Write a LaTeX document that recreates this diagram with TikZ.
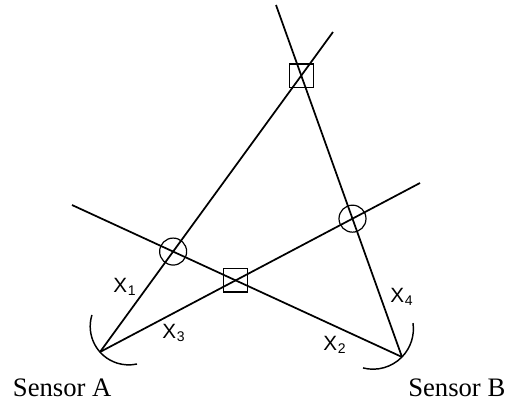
\documentclass[tikz,border=0pt]{standalone}
\usepackage{fontspec}
\setmainfont{Liberation Serif}
\setsansfont{Liberation Sans}
\usetikzlibrary{positioning,calc}
\newcommand{\xlab}[2]{#1\kern0.6pt\raisebox{-2.4pt}{\fontsize{10.5}{11}\selectfont #2}}
\tikzset{
  ray/.style={line width=1.3pt},
  ring/.style={draw,circle,line width=0.9pt,minimum size=20.25pt,inner sep=0pt},
  boxmark/.style={draw,rectangle,line width=0.9pt,minimum width=18pt,minimum height=17.5pt,inner sep=0pt},
  tag/.style={anchor=base west,inner sep=0pt,font=\sffamily\fontsize{15.5}{16}\selectfont},
  caption/.style={anchor=base west,inner sep=0pt,font=\fontsize{20}{24}\selectfont},
  aperture/.style={line width=1.1pt},
}
\begin{document}
\begin{tikzpicture}[x=0.75pt,y=0.75pt]
  \useasboundingbox (0,0) rectangle (508,405);
  \coordinate (A) at (100,53);
  \coordinate (B) at (402,48);
  % far ends of the four bearings
  \coordinate (a1) at (333,373);
  \coordinate (a3) at (420,222);
  \coordinate (b2) at (72,200);
  \coordinate (b4) at (276,400);
  \draw[ray] (A) -- (a1);
  \draw[ray] (A) -- (a3);
  \draw[ray] (B) -- (b2);
  \draw[ray] (B) -- (b4);
  \node[boxmark] (s1) at (intersection of A--a1 and B--b4) {};
  \node[boxmark] (s2) at (intersection of A--a3 and B--b2) {};
  \node[ring] (c1) at (intersection of A--a1 and B--b2) {};
  \node[ring] (c2) at (intersection of A--a3 and B--b4) {};
  % sensor apertures
  \coordinate (ca) at (128.7,78.6);
  \coordinate (cb) at (373,76.2);
  \draw[aperture] ($(ca)+(162.7:38.5)$) arc[start angle=162.7,end angle=282.5,radius=38.5];
  \draw[aperture] ($(cb)+(-104.3:40.4)$) arc[start angle=-104.3,end angle=8.2,radius=40.4];
  \node[tag] (x1) at (113,113) {\xlab{X}{1}};
  \node[tag] (x3) at (162,67) {\xlab{X}{3}};
  \node[tag] (x2) at (323,55) {\xlab{X}{2}};
  \node[tag] (x4) at (390,103) {\xlab{X}{4}};
  \node[caption] (sa) at (12.7,8.3) {Sensor A};
  \node[caption] (sb) at (408,8.3) {Sensor B};
\end{tikzpicture}
\end{document}
